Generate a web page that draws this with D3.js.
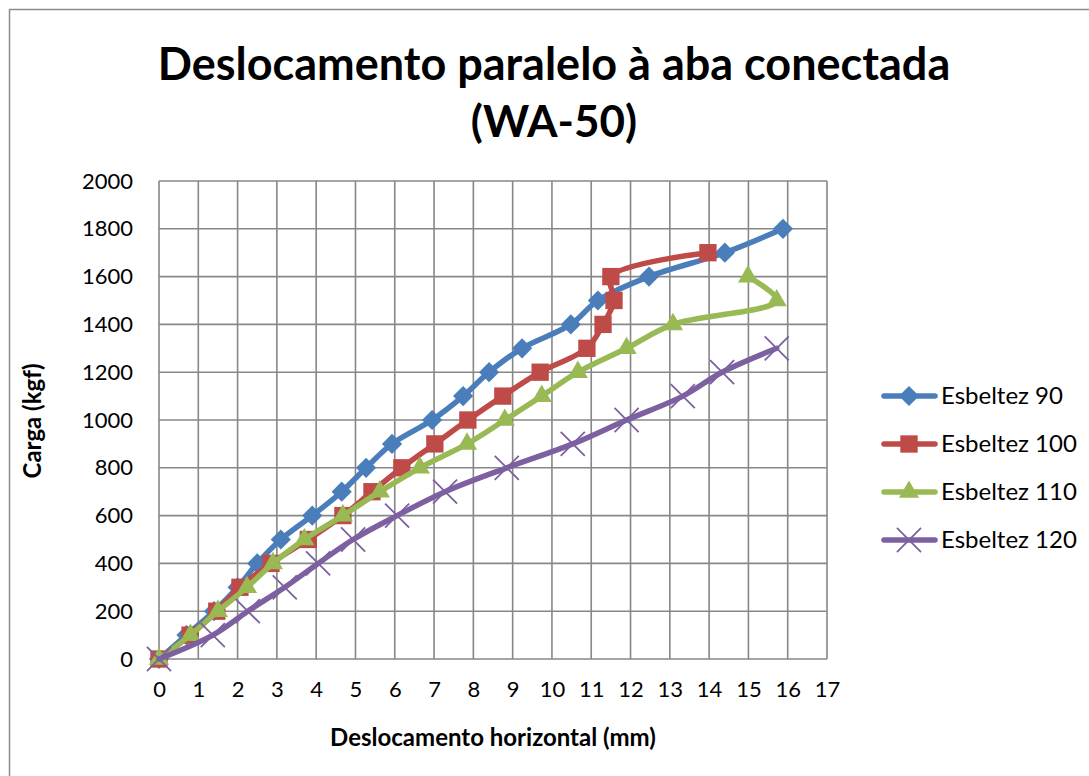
<!DOCTYPE html>
<html>
<head>
<meta charset="utf-8">
<script src="https://cdn.jsdelivr.net/npm/d3@7"></script>
<style>
  body { margin: 0; background: #fff; }
  text { font-family: Lato, "Open Sans", sans-serif; fill: #000; }
</style>
</head>
<body>
<svg id="chart" width="1089" height="776"></svg>
<script>
// load (kgf) levels shared by the series
const loads = [0, 100, 200, 300, 400, 500, 600, 700, 800, 900, 1000, 1100, 1200, 1300, 1400, 1500, 1600, 1700, 1800]

// horizontal displacement (mm) read per series
const esb90 = [0, 0.7, 1.4, 2.0, 2.5, 3.1, 3.9, 4.65, 5.27, 5.93, 6.95, 7.74, 8.4, 9.24, 10.48, 11.17, 12.47, 14.4, 15.88]
const esb100 = [0, 0.79, 1.47, 2.06, 2.85, 3.8, 4.68, 5.42, 6.18, 7.02, 7.86, 8.75, 9.7, 10.89, 11.3, 11.58, 11.5, 13.97]
const esb110 = [0, 0.8, 1.5, 2.24, 2.9, 3.7, 4.68, 5.62, 6.64, 7.84, 8.8, 9.74, 10.66, 11.9, 13.08, 15.72, 14.99]
const esb120 = [0, 1.37, 2.26, 3.2, 4.05, 4.94, 6.06, 7.28, 8.85, 10.53, 11.9, 13.33, 14.33, 15.72]

const seriesNames = ['Esbeltez 90', 'Esbeltez 100', 'Esbeltez 110', 'Esbeltez 120']
const colors = ['#4a7ebb', '#be4b48', '#98b954', '#7d60a0']
const xTicks = d3.range(0, 18)
const yTicks = d3.range(0, 2001, 200)

const svg = d3.select('#chart')
const plot = { left: 159, right: 827, top: 181, bottom: 659 }

const x = d3.scaleLinear().domain([0, 17]).range([plot.left, plot.right])
const y = d3.scaleLinear().domain([0, 2000]).range([plot.bottom, plot.top])

// chart frame
svg.append('rect')
    .attr('x', 9.5).attr('y', 9.5)
    .attr('width', 1100).attr('height', 800)
    .attr('fill', 'none').attr('stroke', '#8c8c8c').attr('stroke-width', 1.5)

// grid
const grid = svg.append('g').attr('stroke', '#878787').attr('stroke-width', 1.6)
grid.selectAll('line.v').data(xTicks).enter().append('line')
    .attr('x1', d => x(d)).attr('x2', d => x(d))
    .attr('y1', plot.top).attr('y2', plot.bottom)
grid.selectAll('line.h').data(yTicks).enter().append('line')
    .attr('x1', plot.left).attr('x2', plot.right)
    .attr('y1', d => y(d)).attr('y2', d => y(d))

// axes (labels only, lines come from grid)
const xAxis = svg.append('g')
    .attr('transform', `translate(0,${plot.bottom + 10})`)
    .call(d3.axisBottom(x).tickValues(xTicks).tickSize(0).tickPadding(12).tickFormat(d3.format('d')))
const yAxis = svg.append('g')
    .attr('transform', `translate(${plot.left - 14},0)`)
    .call(d3.axisLeft(y).tickValues(yTicks).tickSize(0).tickPadding(12).tickFormat(d3.format('d')))
xAxis.select('.domain').remove()
yAxis.select('.domain').remove()
xAxis.selectAll('text').style('font-size', '22px').style('font-family', 'Lato, sans-serif')
yAxis.selectAll('text').style('font-size', '22px').style('font-family', 'Lato, sans-serif')

// titles
svg.append('text').attr('x', 554).attr('y', 80).attr('text-anchor', 'middle')
    .style('font-size', '45px').style('font-weight', 'bold')
    .text('Deslocamento paralelo à aba conectada')
svg.append('text').attr('x', 554).attr('y', 137).attr('text-anchor', 'middle')
    .style('font-size', '44px').style('font-weight', 'bold')
    .text('(WA-50)')
svg.append('text').attr('x', 493).attr('y', 746).attr('text-anchor', 'middle')
    .style('font-size', '24px').style('font-weight', 'bold')
    .text('Deslocamento horizontal (mm)')
svg.append('text')
    .attr('transform', 'translate(41,421) rotate(-90)').attr('text-anchor', 'middle')
    .style('font-size', '24px').style('font-weight', 'bold')
    .text('Carga (kgf)')

const series = [esb90, esb100, esb110, esb120].map((xs, i) => ({
    name: seriesNames[i],
    color: colors[i],
    points: xs.map((v, j) => ({ x: v, y: loads[j] }))
}))

const line = d3.line()
    .x(d => x(d.x)).y(d => y(d.y))
    .curve(d3.curveCatmullRom.alpha(0.5))

function marker(g, i, color) {
    if (i === 3) {
        g.append('path').attr('d', d3.symbol(d3.symbolX, 380)())
            .attr('fill', 'none').attr('stroke', color).attr('stroke-width', 1.8)
    } else if (i === 2) {
        g.append('path').attr('d', d3.symbol(d3.symbolTriangle2, 290)())
            .attr('fill', color)
    } else if (i === 0) {
        g.append('path').attr('d', d3.symbol(d3.symbolDiamond2, 260)())
            .attr('fill', color)
    } else {
        g.append('path').attr('d', d3.symbol(d3.symbolSquare, 300)())
            .attr('fill', color)
    }
}

series.forEach((s, i) => {
    const g = svg.append('g')
    g.append('path').datum(s.points)
        .attr('d', line)
        .attr('fill', 'none').attr('stroke', s.color)
        .attr('stroke-width', 5.5).attr('stroke-linejoin', 'round').attr('stroke-linecap', 'round')
    g.selectAll('g.m').data(s.points).enter().append('g')
        .attr('transform', d => `translate(${x(d.x)},${y(d.y)})`)
        .each(function () { marker(d3.select(this), i, s.color) })
})

// legend
const legend = svg.append('g')
series.forEach((s, i) => {
    const ly = 396 + i * 48
    const lg = legend.append('g')
    lg.append('line').attr('x1', 884).attr('x2', 935).attr('y1', ly).attr('y2', ly)
        .attr('stroke', s.color).attr('stroke-width', 5.5).attr('stroke-linecap', 'round')
    const m = lg.append('g').attr('transform', `translate(909,${ly})`)
    marker(m, i, s.color)
    lg.append('text').attr('x', 941).attr('y', ly + 8)
        .style('font-size', '24px').text(s.name)
})
</script>
</body>
</html>
